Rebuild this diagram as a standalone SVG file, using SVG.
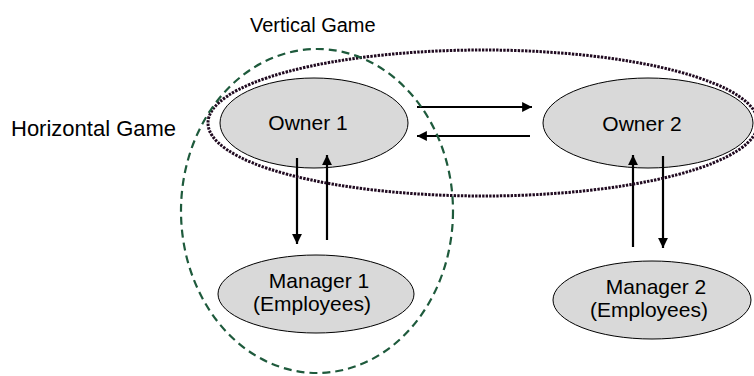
<svg xmlns="http://www.w3.org/2000/svg" width="754" height="376" viewBox="0 0 754 376">
<defs>
<style>
.node{fill:#d9d9d9;stroke:#000;stroke-width:1}
.lbl{font-family:"Liberation Sans",Arial,sans-serif;font-size:21px;fill:#000}
.conn{stroke:#000;stroke-width:2.2;fill:none}
.grpV{fill:none;stroke:#1e5a3c;stroke-width:2.2;stroke-dasharray:8,5}
.grpH{fill:none;stroke:#200a20;stroke-width:3;stroke-dasharray:2.4,1.2}
</style>
<marker id="ah" viewBox="0 0 10 10" refX="10" refY="5" markerWidth="4.5" markerHeight="4.5" markerUnits="strokeWidth" orient="auto">
<path d="M0,0 L10,5 L0,10 z" fill="#000"/>
</marker>
</defs>
<rect width="754" height="376" fill="#fff"/>
<g id="owner1"><ellipse class="node" cx="314" cy="123" rx="94" ry="45"/><text class="lbl" x="308" y="130" text-anchor="middle">Owner 1</text></g>
<g id="owner2"><ellipse class="node" cx="648" cy="123" rx="105" ry="45"/><text class="lbl" x="642" y="131" text-anchor="middle">Owner 2</text></g>
<g id="manager1"><ellipse class="node" cx="316" cy="294" rx="98" ry="39"/><text class="lbl" x="319" y="288" text-anchor="middle">Manager 1</text><text class="lbl" x="312" y="311" text-anchor="middle">(Employees)</text></g>
<g id="manager2"><ellipse class="node" cx="652" cy="300" rx="99" ry="39"/><text class="lbl" x="656" y="294" text-anchor="middle">Manager 2</text><text class="lbl" x="649" y="317" text-anchor="middle">(Employees)</text></g>
<g id="connectors">
<line class="conn" x1="417" y1="107" x2="532" y2="107" marker-end="url(#ah)"/>
<line class="conn" x1="530" y1="136" x2="417" y2="136" marker-end="url(#ah)"/>
<line class="conn" x1="297" y1="158" x2="297" y2="244" marker-end="url(#ah)"/>
<line class="conn" x1="327" y1="240" x2="327" y2="155" marker-end="url(#ah)"/>
<line class="conn" x1="633" y1="247" x2="633" y2="155" marker-end="url(#ah)"/>
<line class="conn" x1="663" y1="156" x2="663" y2="248" marker-end="url(#ah)"/>
</g>
<g id="horizontal-game"><ellipse class="grpH" cx="483" cy="123" rx="275" ry="73"/><text class="lbl" x="11" y="136" style="font-size:22px">Horizontal Game</text></g>
<g id="vertical-game"><ellipse class="grpV" cx="317" cy="211" rx="136" ry="162"/><text class="lbl" x="250" y="32" style="font-size:20px">Vertical Game</text></g>
</svg>
